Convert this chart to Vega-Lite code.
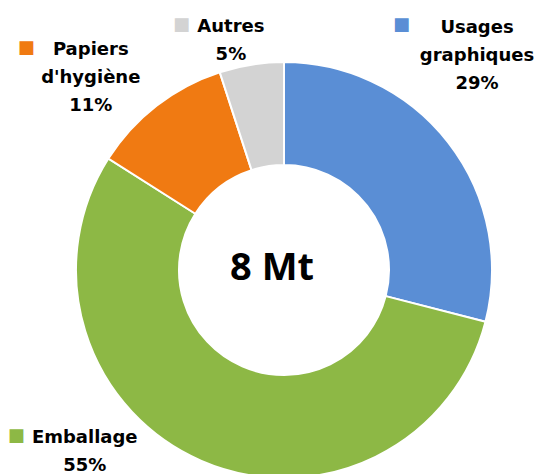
{
  "$schema": "https://vega.github.io/schema/vega-lite/v6.json",
  "width": 506,
  "height": 408,
  "autosize": {"type": "none"},
  "padding": {"left": 31, "top": 66, "right": 0, "bottom": 0},
  "background": "white",
  "config": {
    "view": {"stroke": null},
    "text": {"font": "DejaVu Sans", "fontWeight": "bold", "fontSize": 18, "lineHeight": 28, "lineBreak": "\n", "align": "center", "baseline": "middle"}
  },
  "data": {
    "values": [
      {"cat": "Usages graphiques", "label": "Usages\ngraphiques", "pct": 29, "order": 1},
      {"cat": "Emballage", "label": "Emballage", "pct": 55, "order": 2},
      {"cat": "Papiers d'hygiène", "label": "Papiers\nd'hygiène", "pct": 11, "order": 3},
      {"cat": "Autres", "label": "Autres", "pct": 5, "order": 4}
    ]
  },
  "transform": [{"calculate": "datum.label + '\\n' + datum.pct + '%'", "as": "txt"}],
  "encoding": {
    "theta": {"field": "pct", "type": "quantitative", "stack": true},
    "order": {"field": "order", "type": "quantitative"}
  },
  "layer": [
    {
      "mark": {"type": "arc", "outerRadius": 208, "innerRadius": 105, "stroke": "white", "strokeWidth": 2},
      "encoding": {
        "color": {"field": "cat", "type": "nominal", "legend": null,
          "scale": {"domain": ["Usages graphiques", "Emballage", "Papiers d'hygiène", "Autres"], "range": ["#5A8ED5", "#8DB845", "#F07A12", "#D3D3D3"]}}
      }
    },
    {
      "mark": {"type": "text", "radius": 250, "dx": -4.5, "dy": -89, "color": "black"},
      "encoding": {"text": {"condition": {"test": "datum.cat === 'Usages graphiques'", "field": "txt"}, "value": ""}}
    },
    {
      "mark": {"type": "text", "radius": 250, "dx": -14, "dy": 4, "color": "black"},
      "encoding": {"text": {"condition": {"test": "datum.cat === 'Autres'", "field": "txt"}, "value": ""}}
    },
    {
      "mark": {"type": "text", "radius": 250, "dx": -40, "dy": -22, "color": "black"},
      "encoding": {"text": {"condition": {"test": "datum.cat === \"Papiers d'hygiène\"", "field": "txt"}, "value": ""}}
    },
    {
      "mark": {"type": "text", "radius": 250, "dx": -100, "dy": -61, "color": "black"},
      "encoding": {"text": {"condition": {"test": "datum.cat === 'Emballage'", "field": "txt"}, "value": ""}}
    },
    {
      "mark": {"type": "text", "radius": 250, "dx": -80, "dy": -92, "fontSize": 18, "fontWeight": "normal"},
      "encoding": {
        "text": {"condition": {"test": "datum.cat === 'Usages graphiques'", "value": "■"}, "value": ""},
        "color": {"field": "cat", "type": "nominal", "legend": null}
      }
    },
    {
      "mark": {"type": "text", "radius": 250, "dx": -63.5, "dy": 2, "fontSize": 18, "fontWeight": "normal"},
      "encoding": {
        "text": {"condition": {"test": "datum.cat === 'Autres'", "value": "■"}, "value": ""},
        "color": {"field": "cat", "type": "nominal", "legend": null}
      }
    },
    {
      "mark": {"type": "text", "radius": 250, "dx": -104.5, "dy": -24, "fontSize": 18, "fontWeight": "normal"},
      "encoding": {
        "text": {"condition": {"test": "datum.cat === \"Papiers d'hygiène\"", "value": "■"}, "value": ""},
        "color": {"field": "cat", "type": "nominal", "legend": null}
      }
    },
    {
      "mark": {"type": "text", "radius": 250, "dx": -168.5, "dy": -63, "fontSize": 18, "fontWeight": "normal"},
      "encoding": {
        "text": {"condition": {"test": "datum.cat === 'Emballage'", "value": "■"}, "value": ""},
        "color": {"field": "cat", "type": "nominal", "legend": null}
      }
    },
    {
      "data": {"values": [{"total": "8 Mt"}]},
      "transform": [],
      "mark": {"type": "text", "font": "Open Sans", "fontWeight": "bold", "fontSize": 38, "dx": -12, "dy": -1, "color": "black"},
      "encoding": {"text": {"field": "total", "type": "nominal"}, "theta": null, "order": null}
    }
  ]
}
